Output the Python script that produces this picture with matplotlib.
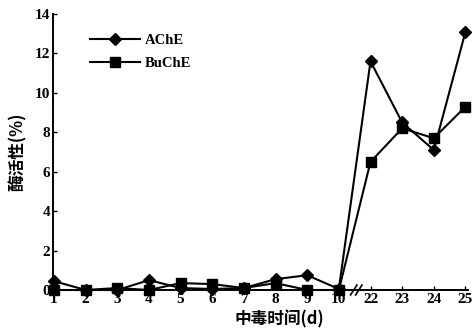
import matplotlib
matplotlib.use("Agg")
import matplotlib.pyplot as plt

days = ["1", "2", "3", "4", "5", "6", "7", "8", "9", "10", "22", "23", "24", "25"]
ache = [0.45, 0.0, 0.0, 0.5, 0.1, 0.05, 0.1, 0.55, 0.75, 0.05, 11.6, 8.5, 7.1, 13.1]
buche = [0.0, 0.0, 0.1, 0.0, 0.35, 0.3, 0.1, 0.35, 0.0, 0.0, 6.5, 8.2, 7.7, 9.3]
yticks = [0, 2, 4, 6, 8, 10, 12, 14]

cjk = ["Noto Sans CJK SC", "DejaVu Sans"]
serif = ["Liberation Serif", "DejaVu Serif"]

fig = plt.figure(figsize=(4.75, 3.35), dpi=100)
ax = fig.add_axes([53/475, 45/335, (468-53)/475, (290-14)/335])

x = list(range(1, len(days) + 1))
ax.plot(x, ache, color="black", lw=1.5, marker="D", ms=6, label="AChE", clip_on=False, zorder=3)
ax.plot(x, buche, color="black", lw=1.5, marker="s", ms=6.5, label="BuChE", clip_on=False, zorder=3)

ax.set_xlim(0.97, 14.08)
ax.set_ylim(0, 14)
ax.set_xticks(x)
ax.set_xticklabels(days)
ax.set_yticks(yticks)
for s in ["top", "right"]:
    ax.spines[s].set_visible(False)
for s in ["left", "bottom"]:
    ax.spines[s].set_linewidth(1.4)
ax.tick_params(axis="both", direction="in", length=3, width=1, pad=2)
for lab in ax.get_xticklabels() + ax.get_yticklabels():
    lab.set_family(serif)
    lab.set_fontweight("bold")
    lab.set_fontsize(11)

# axis break mark between 10 and 22
bx = 10.55
for dx in (-0.08, 0.08):
    ax.plot([bx + dx - 0.1, bx + dx + 0.1], [-0.25, 0.25], color="black", lw=1.2, clip_on=False, zorder=4)

ax.set_ylabel("酶活性(%)", family=cjk, fontweight="bold", fontsize=12, labelpad=6)
ax.set_xlabel("中毒时间(d)", family=cjk, fontweight="bold", fontsize=12, labelpad=3)
ax.xaxis.label.set_x(0.545)

leg = ax.legend(loc="upper left", bbox_to_anchor=(0.075, 0.95), frameon=False,
                handlelength=3.4, borderaxespad=0, labelspacing=0.7, handletextpad=0.35,
                prop={"family": serif, "weight": "bold", "size": 10.5})

fig.savefig("out.png", dpi=100)
